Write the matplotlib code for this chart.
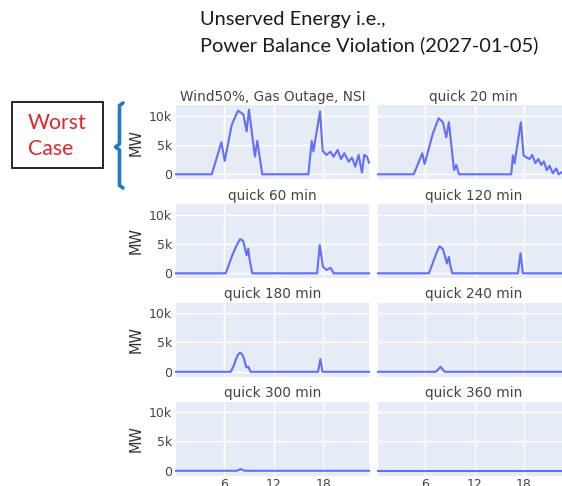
import matplotlib
matplotlib.use("Agg")
import matplotlib.pyplot as plt
from matplotlib.lines import Line2D
from matplotlib.patches import Rectangle

# ---------------- data ----------------
panel_titles = ["Wind50%, Gas Outage, NSI", "quick 20 min",
                "quick 60 min", "quick 120 min",
                "quick 180 min", "quick 240 min",
                "quick 300 min", "quick 360 min"]

hours_nsi = [0.25, 4.56, 5.72, 6.12, 6.96, 7.72, 8.36, 8.76, 9.04, 9.76, 10.04, 10.64,
             16.2, 16.6, 16.8, 17.6, 17.92, 18.37, 18.85, 19.24, 19.72, 20.13, 20.53,
             21.04, 21.45, 21.85, 22.25, 22.65, 22.93, 23.25, 23.5]
mw_nsi = [0, 0, 5460, 2270, 8400, 10850, 10200, 7300, 11000, 3000, 5700, 0,
          0, 5700, 3900, 10700, 4000, 3300, 3860, 3000, 4150, 2600, 3600,
          2150, 2850, 1300, 3300, 300, 3300, 3000, 2000]

hours_q20 = [0.25, 4.6, 5.64, 5.92, 6.94, 7.63, 8.15, 8.56, 8.88, 9.5, 9.78, 10.1,
             16.47, 16.67, 16.87, 17.64, 17.97, 18.3, 18.7, 19.03, 19.39, 19.76, 20.12,
             20.44, 20.8, 21.13, 21.53, 21.95, 22.23, 22.55, 22.9, 23.2, 23.5]
mw_q20 = [0, 0, 3580, 1760, 7000, 9550, 8870, 6300, 8870, 730, 1600, 0,
          0, 3200, 1870, 8870, 3200, 2900, 2600, 3300, 1900, 2600, 1600,
          2200, 700, 1450, 170, 1000, 0, 300, 600, 0, 0]

hours_q60 = [0.25, 6.24, 6.7, 7.04, 7.5, 7.96, 8.2, 8.36, 8.76, 8.96, 9.1, 9.44,
             17.25, 17.56, 17.96, 18.4, 18.85, 19.25, 23.5]
mw_q60 = [0, 0, 1800, 3100, 4600, 5800, 5700, 5400, 3100, 4200, 2500, 0,
          0, 4800, 1100, 560, 950, 0, 0]

hours_q120 = [0.25, 6.45, 7.14, 7.5, 7.75, 8.16, 8.64, 8.88, 9.04, 9.29,
              17.28, 17.6, 17.88, 23.5]
mw_q120 = [0, 0, 2600, 3900, 4600, 4100, 1700, 2800, 1400, 0,
           0, 3400, 0, 0]

hours_q180 = [0.25, 6.84, 7.2, 7.44, 7.7, 7.96, 8.2, 8.4, 8.72, 8.96, 9.24,
              17.36, 17.64, 17.9, 23.5]
mw_q180 = [0, 0, 1000, 2000, 2900, 3250, 3000, 2400, 750, 850, 0,
           0, 2170, 0, 0]

hours_q240 = [0.25, 7.3, 7.87, 8.36, 23.5]
mw_q240 = [0, 0, 850, 0, 0]

hours_q300 = [0.25, 7.6, 8.04, 8.5, 23.5]
mw_q300 = [0, 0, 300, 0, 0]

hours_q360 = [0.25, 23.5]
mw_q360 = [0, 0]

series_hours = [hours_nsi, hours_q20, hours_q60, hours_q120,
                hours_q180, hours_q240, hours_q300, hours_q360]
series_mw = [mw_nsi, mw_q20, mw_q60, mw_q120, mw_q180, mw_q240, mw_q300, mw_q360]

x_ticks = [6, 12, 18]
x_tick_labels = ["6", "12", "18"]
y_ticks = [0, 5000, 10000]
y_tick_labels = ["0", "5k", "10k"]

# ---------------- layout ----------------
W, H = 562, 486
fig = plt.figure(figsize=(W / 100, H / 100), dpi=100)


def rect(x0, y0, x1, y1):
    return [x0 / W, 1 - y1 / H, (x1 - x0) / W, (y1 - y0) / H]


def fp(x, y):
    return (x / W, 1 - y / H)


col_x = [(176, 369), (378, 569)]
row_y = [(105, 179), (204, 278), (302.5, 376.5), (401.5, 475.5)]

BG = "#E5ECF6"
LINE = "#636EFA"
TXT = "#444444"

for i in range(8):
    r, c = divmod(i, 2)
    ax = fig.add_axes(rect(col_x[c][0], row_y[r][0], col_x[c][1], row_y[r][1]))
    ax.set_facecolor(BG)
    for s in ax.spines.values():
        s.set_visible(False)
    ax.plot(series_hours[i], series_mw[i], color=LINE, lw=1.5, zorder=3,
            solid_joinstyle="round", clip_on=False)
    ax.set_xlim(0.25, 23.5)
    ax.set_ylim(-800, 11800)
    ax.set_xticks(x_ticks)
    ax.set_yticks(y_ticks)
    ax.grid(True, color="white", lw=1.0, zorder=0)
    ax.set_axisbelow(True)
    ax.tick_params(axis="y", length=0, pad=3, labelsize=9, labelcolor=TXT)
    ax.tick_params(axis="x", length=0, pad=1.5, labelsize=9, labelcolor=TXT)
    if r == 3:
        ax.set_xticklabels(x_tick_labels)
    else:
        ax.set_xticklabels([])
    if c == 0:
        ax.set_yticklabels(y_tick_labels)
        ax.set_ylabel("MW", fontsize=10.5, color="#333333", labelpad=4)
    else:
        ax.set_yticklabels([])
    ax.set_title(panel_titles[i], fontsize=9.8, color=TXT, pad=3)

# ---------------- annotations ----------------
fig.text(*fp(200, 19), "Unserved Energy i.e.,", family="Lato", fontsize=14.4,
         color="#1a1a1a", ha="left", va="center")
fig.text(*fp(200, 45), "Power Balance Violation (2027-01-05)", family="Lato",
         fontsize=14.4, color="#1a1a1a", ha="left", va="center")

fig.add_artist(Rectangle(fp(12, 168), 91 / W, 66 / H, transform=fig.transFigure,
                         fill=False, edgecolor="black", lw=1.2))
fig.text(*fp(28, 123), "Worst", family="Lato", fontsize=15.3, color="#E0262B",
         ha="left", va="center")
fig.text(*fp(28, 149), "Case", family="Lato", fontsize=15.3, color="#E0262B",
         ha="left", va="center")

brace_px = [(123, 103), (119.5, 105.5), (119.5, 144), (115.5, 147), (119.5, 150),
            (119.5, 185.5), (123, 188)]
bx = [p[0] / W for p in brace_px]
by = [1 - p[1] / H for p in brace_px]
fig.add_artist(Line2D(bx, by, transform=fig.transFigure, color="#2878BE", lw=2.6,
                      solid_joinstyle="round", solid_capstyle="round"))

fig.savefig("out.png", dpi=100)
